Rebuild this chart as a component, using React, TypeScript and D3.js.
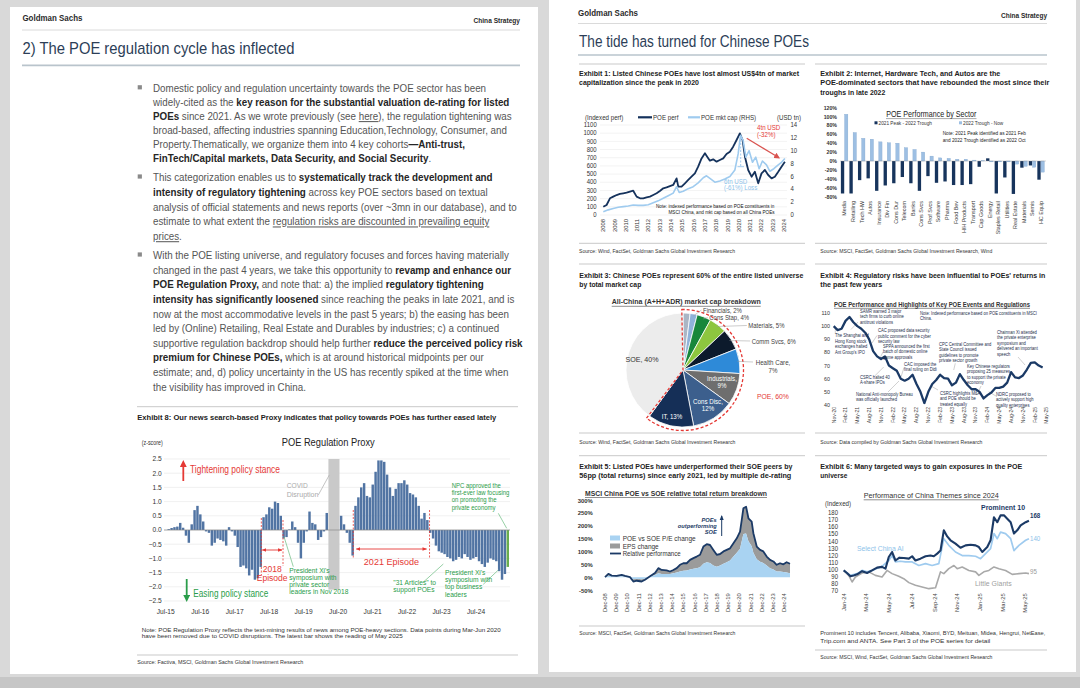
import React from 'react';
import * as d3 from 'd3';

const FONT = "'Liberation Sans', Arial, Helvetica, sans-serif";
const SX = 0.95;
const BODY_SX = 0.98;
const NAVY = '#15325c';
const LIGHT = '#9fcbef';
const RED = '#e53935';
const GREEN = '#2a9d4a';

// ---------------- Exhibit 8: POE Regulation Proxy (monthly z-score, Jul-15 .. May-25) ----------------
const proxyValues: (number | null)[] = [
  0.03, 0.07, 0.1, 0.12, 0.25, 0.08, -0.2, -0.45, 0.2, 0.7, 0.85, 0.55,
  0.3, -0.05, -0.1, -0.55, -0.45, -0.3, -0.35, -0.4, -0.55, 0.1, -0.05, -0.2,
  -0.6, -1.3, -1.25, -1.35, -1.6, -1.4, -1.75, -1.7, -1.3, 0.45, 0.55, 0.8,
  0.75, 1.0, 0.95, 0.5, -0.3, -0.25, 0.02, 0.3, 0.1, -0.45, -1.0, -0.45,
  -0.05, 0.65, 0.25, 0.2, -0.35, -0.25, -0.05, 0.6, null, null, null, null,
  0.5, 0.2, -0.1, -0.45, -0.9, 0.85, 1.15, 1.5, 1.65, 1.2, 1.15, 1.6,
  2.05, 2.45, 2.45, 2.4, 1.95, 1.5, 1.2, 1.45, 1.65, 1.65, 1.75, 1.6,
  1.3, 1.25, 1.15, 0.85, 0.4, 0.6, 0.35, -0.1, -0.3, -0.55, -0.75, -0.8,
  -0.85, -0.95, -1.0, -1.1, -1.05, -0.95, -1.0, -0.85, -0.95, -1.05, -1.0, -0.95,
  -1.1, -1.2, -1.3, -1.15, -1.0, -1.05, -1.1, -1.45, -1.75, -1.55, -1.3,
];
const proxyTickLabels = ['Jul-15', 'Jul-16', 'Jul-17', 'Jul-18', 'Jul-19', 'Jul-20', 'Jul-21', 'Jul-22', 'Jul-23', 'Jul-24'];
const proxyYTicks = [2.5, 2.0, 1.5, 1.0, 0.5, 0.0, -0.5, -1.0, -1.5, -2.0, -2.5];
const episode2018 = [33, 39];
const episode2021 = [65, 90];

// ---------------- Exhibit 1 ----------------
const perfYears = [2008.0, 2008.29, 2008.59, 2008.88, 2009.18, 2009.47, 2009.77, 2010.06, 2010.36, 2010.65, 2010.95, 2011.25, 2011.54, 2011.83, 2012.13, 2012.42, 2012.72, 2013.01, 2013.31, 2013.6, 2013.9, 2014.19, 2014.49, 2014.64, 2014.93, 2015.23, 2015.52, 2015.81, 2016.11, 2016.4, 2016.7, 2017.0, 2017.2, 2017.44, 2017.73, 2018.03, 2018.32, 2018.62, 2018.91, 2019.21, 2019.5, 2019.8, 2020.09, 2020.33, 2020.54, 2020.83, 2021.13, 2021.42, 2021.72, 2022.01, 2022.31, 2022.6, 2022.9, 2023.19, 2023.49, 2023.78, 2024.08];
const perfValues = [100, 122, 204, 224, 244, 257, 265, 273, 285, 297, 224, 204, 204, 216, 224, 244, 265, 293, 326, 338, 354, 367, 448, 346, 346, 387, 428, 468, 509, 591, 692, 754, 713, 664, 680, 652, 672, 692, 745, 774, 835, 917, 998, 917, 713, 550, 468, 529, 387, 509, 550, 489, 448, 468, 529, 591, 652];
const mktCapYears = [2008.0, 2008.44, 2008.88, 2009.32, 2009.77, 2010.21, 2010.65, 2011.09, 2011.54, 2011.98, 2012.42, 2012.86, 2013.31, 2013.75, 2014.19, 2014.49, 2014.72, 2015.08, 2015.52, 2015.96, 2016.4, 2016.85, 2017.14, 2017.44, 2017.88, 2018.32, 2018.76, 2019.21, 2019.65, 2019.94, 2020.15, 2020.38, 2020.62, 2020.91, 2021.21, 2021.5, 2021.8, 2022.09, 2022.45, 2022.75, 2023.1, 2023.49, 2023.78, 2024.08];
const mktCapValues = [0.5, 0.8, 1.0, 1.2, 1.3, 1.4, 1.55, 1.5, 1.5, 1.6, 1.9, 2.2, 2.6, 3.0, 3.4, 4.4, 3.5, 3.7, 4.1, 4.4, 5.0, 5.8, 6.1, 5.7, 5.1, 5.3, 5.6, 6.0, 7.0, 9.5, 12.4, 11.6, 9.0, 10.0, 8.2, 9.0, 7.2, 8.4, 7.8, 6.8, 7.2, 7.8, 8.2, 8.8];
const perfYTicks = [0, 100, 200, 300, 400, 500, 600, 700, 800, 900, 1000, 1100];
const capYTicks = [0, 2, 4, 6, 8, 10, 12, 14];
const yearLabels = ['2008', '2009', '2010', '2011', '2012', '2013', '2014', '2015', '2016', '2017', '2018', '2019', '2020', '2021', '2022', '2023', '2024'];

// ---------------- Exhibit 2 ----------------
const sectors = ['Media', 'Retailing', 'Tech HW', 'Autos', 'Insurance', 'Div Fin', 'Cons Dur', 'Telecom', 'Banks', 'Cons Svcs', 'Prof Svcs', 'Software', 'Pharma', 'Food Bev', 'H/H Products', 'Transport', 'Cap Goods', 'Energy', 'Staples Retail', 'Utilities', 'Real Estate', 'Materials', 'Semis', 'HC Equip'];
const peakToTrough = [-73, -73, -43, -39, -67, -55, -50, -36, -50, -67, -34, -49, -46, -54, -54, -52, -13, 6, -73, -37, -74, -15, -10, -42];
const troughToNow = [105, 64, 51, 49, 43, 41, 40, 30, 26, 20, 11, 7, 6, 4, 4, 2, 1, -2, -2, -2, -7, -12, -14, -25];
const sectorYTicks = [120, 100, 80, 60, 40, 20, 0, -20, -40, -60, -80];

// ---------------- Exhibit 3 ----------------
const sliceNames = ['Others', 'Financials', 'Cons Stap', 'Materials', 'Comm Svcs', 'Health Care', 'Industrials', 'Cons Disc', 'IT', 'SOE'];
const sliceValues = [2, 2, 4, 5, 6, 7, 9, 12, 13, 40];
const sliceColors = ['#aab6c5', '#8fb2d9', '#17873b', '#8dc63f', '#0c1a2c', '#2e8ad8', '#6e6e6e', '#3c5f8d', '#152f57', '#ececec'];

// ---------------- Exhibit 4 ----------------
const regPerf = [100, 97, 98, 104, 107, 103, 100, 98, 95, 90, 81, 77, 75, 77, 70, 68, 66, 60, 58.5, 60, 63, 56, 50, 41.5, 50, 56, 59, 63, 60.5, 60, 55, 57, 63.5, 59, 55, 52, 52, 50, 45, 47.5, 49.5, 53, 53, 54, 57, 65, 61, 60.5, 62.5, 67, 72, 72.5, 70, 68.5];
const regXLabels = ['Nov-20', 'Feb-21', 'May-21', 'Aug-21', 'Nov-21', 'Feb-22', 'May-22', 'Aug-22', 'Nov-22', 'Feb-23', 'May-23', 'Aug-23', 'Nov-23', 'Feb-24', 'May-24', 'Aug-24', 'Nov-24', 'Feb-25', 'May-25'];
const regYTicks = [110, 100, 90, 80, 70, 60, 50, 40];

// ---------------- Exhibit 5 ----------------
const relYears = [2008.92, 2009.22, 2009.52, 2009.96, 2010.41, 2010.71, 2011.15, 2011.45, 2011.75, 2012.19, 2012.49, 2012.94, 2013.38, 2013.68, 2013.98, 2014.42, 2014.72, 2015.02, 2015.32, 2015.61, 2015.91, 2016.21, 2016.51, 2016.81, 2017.1, 2017.4, 2017.7, 2018.0, 2018.29, 2018.59, 2018.89, 2019.19, 2019.49, 2019.78, 2020.08, 2020.38, 2020.68, 2020.97, 2021.12, 2021.27, 2021.51, 2021.72, 2022.01, 2022.16, 2022.46, 2022.76, 2023.05, 2023.35, 2023.65, 2023.95, 2024.24, 2024.54, 2024.84, 2025.13, 2025.43];
const relPerf = [0, 13, 6, 5, 9, 5, 0, -17, -14, -17, -10, 3, 16, 35, 28, 26, 22, 28, 35, 48, 54, 54, 67, 74, 80, 87, 119, 128, 125, 106, 87, 90, 100, 106, 112, 132, 151, 177, 222, 268, 274, 229, 216, 171, 119, 106, 100, 80, 67, 61, 48, 54, 50, 58, 52];
const peChange = [0, 5, 3, 2, 3, 2, 0, -8, -6, -8, -5, 2, 8, 15, 12, 12, 12, 15, 18, 22, 25, 26, 30, 33, 35, 38, 52, 58, 55, 45, 40, 45, 52, 58, 65, 80, 95, 110, 140, 168, 170, 140, 120, 95, 70, 60, 55, 45, 35, 30, 22, 22, 20, 18, 15];
const relYTicks = [300, 250, 200, 150, 100, 50, 0, -50];
const decLabels = ['Dec-08', 'Dec-09', 'Dec-10', 'Dec-11', 'Dec-12', 'Dec-13', 'Dec-14', 'Dec-15', 'Dec-16', 'Dec-17', 'Dec-18', 'Dec-19', 'Dec-20', 'Dec-21', 'Dec-22', 'Dec-23', 'Dec-24'];

// ---------------- Exhibit 6 (months since Jan-24) ----------------
const promMonths = [0, 0.29, 0.59, 0.88, 1.18, 1.62, 2.06, 2.5, 2.94, 3.38, 3.68, 3.97, 4.26, 4.56, 4.91, 5.29, 5.74, 6.03, 6.32, 6.76, 7.21, 7.65, 7.94, 8.24, 8.53, 8.82, 9.12, 9.41, 9.85, 10.29, 10.74, 11.18, 11.62, 11.91, 12.21, 12.65, 12.94, 13.24, 13.53, 13.82, 14.12, 14.41, 14.71, 15.0, 15.29, 15.59, 16.03, 16.32];
const promValues = [99, 95.4, 90.7, 92, 93.5, 98, 95.4, 99, 103, 104, 101.5, 118, 125, 113, 117, 116.5, 115.6, 119, 113, 115.6, 119, 120, 119, 122.7, 127, 155.6, 147, 141.5, 136.8, 131, 134.4, 135.3, 134.4, 132, 125, 132, 141.5, 174, 167, 176.7, 176.7, 172, 167, 151, 155.6, 162.6, 167, 169];
const aiMonths = [0, 0.59, 1.18, 1.62, 2.06, 2.5, 3.38, 3.97, 4.26, 4.56, 5.0, 5.44, 6.03, 6.62, 7.21, 7.79, 8.38, 8.82, 9.26, 9.85, 10.44, 11.03, 11.62, 12.06, 12.5, 12.94, 13.24, 13.53, 13.82, 14.26, 14.71, 15.0, 15.44, 16.03, 16.32];
const aiValues = [99, 92, 94.5, 99, 97, 99, 104.8, 113, 120, 111, 112, 111, 111, 106, 108.6, 106, 108.6, 143.8, 134.4, 125, 120, 120, 119, 115.6, 122.7, 129.7, 151, 143.8, 153, 151, 143.8, 127, 134.4, 141.5, 143.8];
const giantsMonths = [0, 0.44, 0.74, 1.03, 1.62, 2.21, 2.79, 3.38, 3.82, 4.26, 4.85, 5.29, 5.74, 6.32, 6.91, 7.5, 8.09, 8.53, 8.82, 9.26, 9.71, 10.0, 10.44, 11.03, 11.62, 11.91, 12.35, 12.79, 13.24, 13.68, 14.26, 14.85, 15.44, 16.03, 16.32];
const giantsValues = [99, 92, 82.7, 89.8, 95.4, 97, 92, 89.8, 99, 94.5, 90.7, 87.4, 81.8, 78, 75.7, 73.3, 74.7, 97, 94.5, 101.5, 106, 101.5, 103.9, 99, 97, 92, 97, 99, 103.9, 101.5, 99, 93.5, 94.5, 95.4, 94.5];
const themeXLabels = ['Jan-24', 'Mar-24', 'May-24', 'Jul-24', 'Sep-24', 'Nov-24', 'Jan-25', 'Mar-25', 'May-25'];
const themeYTicks = [180, 170, 160, 150, 140, 130, 120, 110, 100, 90, 80, 70];

// ---------------- Body text ----------------
type Seg = [string, string];
const bullet1: Seg[][] = [
  [['Domestic policy and regulation uncertainty towards the POE sector has been', '']],
  [['widely-cited as the ', ''], ['key reason for the substantial valuation de-rating for listed', 'b']],
  [['POEs', 'b'], [' since 2021. As we wrote previously (see ', ''], ['here', 'u'], ['), the regulation tightening was', '']],
  [['broad-based, affecting industries spanning Education,Technology, Consumer, and', '']],
  [['Property.Thematically, we organize them into 4 key cohorts', ''], ['\u2014Anti-trust,', 'b']],
  [['FinTech/Capital markets, Data Security, and Social Security', 'b'], ['.', '']],
];
const bullet2: Seg[][] = [
  [['This categorization enables us to ', ''], ['systematically track the development and', 'b']],
  [['intensity of regulatory tightening', 'b'], [' across key POE sectors based on textual', '']],
  [['analysis of official statements and news reports (over ~3mn in our database), and to', '']],
  [['estimate to what extent the ', ''], ['regulation risks are discounted in prevailing equity', 'u']],
  [['prices', 'u'], ['.', '']],
];
const bullet3: Seg[][] = [
  [['With the POE listing universe, and regulatory focuses and forces having materially', '']],
  [['changed in the past 4 years, we take this opportunity to ', ''], ['revamp and enhance our', 'b']],
  [['POE Regulation Proxy,', 'b'], [' and note that: a) the implied ', ''], ['regulatory tightening', 'b']],
  [['intensity has significantly loosened', 'b'], [' since reaching the peaks in late 2021, and is', '']],
  [['now at the most accommodative levels in the past 5 years; b) the easing has been', '']],
  [['led by (Online) Retailing, Real Estate and Durables by industries; c) a continued', '']],
  [['supportive regulation backdrop should help further ', ''], ['reduce the perceived policy risk', 'b']],
  [['premium for Chinese POEs,', 'b'], [' which is at around historical midpoints per our', '']],
  [['estimate; and, d) policy uncertainty in the US has recently spiked at the time when', '']],
  [['the visibility has improved in China.', '']],
];

function T({ x, y, s = 7, sx = SX, a = 'start', fill = '#333', bold = false, italic = false, tl, deco, rot, children }: any) {
  const tr = rot ? `translate(${x},${y}) rotate(${rot})` : `translate(${x},${y}) scale(${sx},1)`;
  const k = rot ? 1 : sx;
  return (
    <text transform={tr} fontSize={s} textAnchor={a} fill={fill} fontWeight={bold ? 700 : 400}
      fontStyle={italic ? 'italic' : undefined} textDecoration={deco}
      textLength={tl ? tl / k : undefined} lengthAdjust={tl ? 'spacingAndGlyphs' : undefined}>{children}</text>
  );
}

function Ln({ x1, y1, x2, y2, c = '#bbb', w = 0.8, dash, m }: any) {
  return <line x1={x1} y1={y1} x2={x2} y2={y2} stroke={c} strokeWidth={w} strokeDasharray={dash} markerEnd={m ? `url(#${m})` : undefined} />;
}

function Para({ lines, x, y0, step }: { lines: Seg[][]; x: number; y0: number; step: number }) {
  return (
    <g>
      <rect x={137.7} y={y0 - 6.8} width={4.2} height={4.2} fill="#8a8a8a" />
      {lines.map((line, i) => (
        <text key={i} transform={`translate(${x},${y0 + i * step}) scale(${BODY_SX},1)`} fontSize={10} fill="#555">
          {line.map((sg, j) => (
            <tspan key={j} fontWeight={sg[1] === 'b' ? 700 : 400} fill={sg[1] === 'b' ? '#262626' : '#555'}
              textDecoration={sg[1] === 'u' ? 'underline' : undefined}>{sg[0]}</tspan>
          ))}
        </text>
      ))}
    </g>
  );
}

function Exhibit8() {
  const idx = d3.range(proxyValues.length);
  const x = d3.scaleBand<number>().domain(idx).range([167.5, 509]).paddingInner(0.15);
  const bw = x.bandwidth();
  const y = d3.scaleLinear().domain([-2.5, 2.5]).range([601, 459]);
  const nulls = idx.filter((i) => proxyValues[i] == null);
  const cx0 = x(nulls[0])!;
  const cx1 = x(nulls[nulls.length - 1])! + bw;
  const last = proxyValues.length - 1;
  const e18a = x(episode2018[0])! - 1, e18b = x(episode2018[1])! + bw + 1;
  const e21a = x(episode2021[0])! - 1, e21b = x(episode2021[1])! + bw + 1;
  return (
    <g>
      <Ln x1={137} y1={406.7} x2={518} y2={406.7} c="#c9c9c9" w={1} />
      <T x={137.3} y={420} s={7.6} bold fill="#222" tl={359}>Exhibit 8: Our news search-based Proxy indicates that policy towards POEs has further eased lately</T>
      <T x={141.7} y={445} s={7} fill="#333" tl={21}>(z-score)</T>
      <T x={281.7} y={445.5} s={10.5} fill="#222" tl={93}>POE Regulation Proxy</T>
      {proxyYTicks.map((t) => (
        <g key={t}>
          <Ln x1={164} y1={y(t)} x2={510} y2={y(t)} c="#e6e6e6" w={0.6} />
          <T x={161.7} y={y(t) + 2.4} s={7} a="end" fill="#333">{d3.format('.1f')(t)}</T>
        </g>
      ))}
      <rect x={cx0} y={y(2.5)} width={cx1 - cx0} height={y(-2.1) - y(2.5)} fill="#c9c9c9" />
      {idx.map((i) => {
        const v = proxyValues[i];
        if (v == null) return null;
        return <rect key={i} x={x(i)} y={y(Math.max(0, v))} width={bw} height={Math.abs(y(v) - y(0))}
          fill={i === last ? '#6aad4e' : '#5174a3'} />;
      })}
      <Ln x1={164} y1={y(0)} x2={510} y2={y(0)} c="#8a8a8a" w={0.7} />
      {proxyTickLabels.map((l, k) => (
        <T key={l} x={x(k * 12)! + bw / 2 - 3} y={613.5} s={7} a="middle" fill="#333">{l}</T>
      ))}
      <Ln x1={183.3} y1={481} x2={183.3} y2={463} c={RED} w={1.8} m="arR" />
      <T x={190} y={472.5} s={10} fill={RED} tl={90}>Tightening policy stance</T>
      <Ln x1={186.7} y1={579} x2={186.7} y2={599} c={GREEN} w={1.8} m="arG" />
      <T x={193.3} y={596.5} s={10} fill={GREEN} tl={75}>Easing policy stance</T>
      <T x={286.7} y={487.5} s={7} fill="#aaa">COVID</T>
      <T x={286.7} y={496.5} s={7} fill="#aaa" tl={31.7}>Disruption</T>
      <Ln x1={318.3} y1={495} x2={329.3} y2={475} c="#b5b5b5" w={0.8} />
      <Ln x1={e18a} y1={518} x2={e18a} y2={575} c={RED} w={0.8} dash="2,1.5" />
      <Ln x1={e18b} y1={520} x2={e18b} y2={566} c={RED} w={0.8} dash="2,1.5" />
      <line x1={e18a + 1} y1={550} x2={e18b - 1} y2={550} stroke={RED} strokeWidth={0.9} markerStart="url(#arRs)" markerEnd="url(#arRs)" />
      <T x={(e18a + e18b) / 2} y={571.5} s={9} a="middle" fill={RED}>2018</T>
      <T x={(e18a + e18b) / 2} y={580.5} s={9} a="middle" fill={RED}>Episode</T>
      <Ln x1={e21a} y1={510} x2={e21a} y2={558} c={RED} w={0.8} dash="2,1.5" />
      <Ln x1={e21b} y1={510} x2={e21b} y2={558} c={RED} w={0.8} dash="2,1.5" />
      <line x1={e21a + 3} y1={549} x2={e21b - 3} y2={549} stroke={RED} strokeWidth={0.9} markerStart="url(#arRs)" markerEnd="url(#arRs)" />
      <T x={(e21a + e21b) / 2} y={565} s={9.5} a="middle" fill={RED}>2021 Episode</T>
      <Ln x1={284} y1={536.7} x2={293.3} y2={566.7} c="#7cc48f" w={0.8} />
      {["President Xi's", 'symposium with', 'private sector', 'leaders in Nov 2018'].map((t, i) => (
        <T key={t} x={289.3} y={572.5 + i * 7.2} s={7} fill={GREEN}>{t}</T>
      ))}
      <Ln x1={422.7} y1={582.7} x2={443.3} y2={564} c="#7cc48f" w={0.8} />
      {['"31 Articles" to', 'support POEs'].map((t, i) => (
        <T key={t} x={393.3} y={585 + i * 7.2} s={7} fill={GREEN}>{t}</T>
      ))}
      <Ln x1={483.3} y1={584.3} x2={498.3} y2={570} c="#7cc48f" w={0.8} />
      {["President Xi's", 'symposium with', 'top business', 'leaders'].map((t, i) => (
        <T key={t} x={445} y={574.5 + i * 7.4} s={7} fill={GREEN}>{t}</T>
      ))}
      <Ln x1={498.3} y1={513.3} x2={506.7} y2={528.3} c="#7cc48f" w={0.8} />
      {['NPC approved the', 'first-ever law focusing', 'on promoting the', 'private economy'].map((t, i) => (
        <T key={t} x={451.7} y={487.5 + i * 7.4} s={6.8} sx={0.88} fill={GREEN}>{t}</T>
      ))}
      <T x={141.7} y={631.5} s={6.2} fill="#333" tl={359}>Note: POE Regulation Proxy reflects the text-mining results of news among POE-heavy sections. Data points during Mar-Jun 2020</T>
      <T x={141.7} y={638} s={6.2} fill="#333" tl={261}>have been removed due to COVID disruptions. The latest bar shows the reading of May 2025</T>
      <Ln x1={137} y1={655} x2={518} y2={655} c="#c9c9c9" w={1} />
      <T x={137.3} y={664} s={6} fill="#333" tl={166}>Source: Factiva, MSCI, Goldman Sachs Global Investment Research</T>
    </g>
  );
}

function LeftPage() {
  return (
    <g>
      <T x={22.4} y={21} s={9.5} bold fill="#2b2b2b" tl={60}>Goldman Sachs</T>
      <T x={520} y={22.5} s={7} bold fill="#2b2b2b" a="end" tl={46.5}>China Strategy</T>
      <Ln x1={22} y1={30} x2={520} y2={30} c="#d0d0d0" w={0.8} />
      <T x={22.4} y={54} s={17} fill="#2c3e57" tl={272}>2) The POE regulation cycle has inflected</T>
      <Ln x1={22} y1={65.4} x2={520} y2={65.4} c="#b9c4cc" w={1.6} />
      <Para lines={bullet1} x={153} y0={92} step={14.05} />
      <Para lines={bullet2} x={153} y0={181.2} step={14.75} />
      <Para lines={bullet3} x={153} y0={259.2} step={14.6} />
      <Exhibit8 />
    </g>
  );
}

function Exhibit1() {
  const x = d3.scaleLinear().domain([2008, 2024]).range([603.3, 784]);
  const yL = d3.scaleLinear().domain([0, 1100]).range([215, 125]);
  const yR = d3.scaleLinear().domain([0, 14]).range([215, 125]);
  const perfLine = d3.line<number>().x((_, i) => x(perfYears[i])).y((v) => yL(v));
  const capLine = d3.line<number>().x((_, i) => x(mktCapYears[i])).y((v) => yR(v));
  return (
    <g>
      <T x={579} y={75.5} s={7.2} bold fill="#222" tl={220}>Exhibit 1: Listed Chinese POEs have lost almost US$4tn of market</T>
      <T x={579} y={85} s={7.2} bold fill="#222" tl={120}>capitalization since the peak in 2020</T>
      <T x={585} y={119.5} s={6.5} fill="#333">(Indexed perf)</T>
      <Ln x1={638} y1={117.3} x2={652} y2={117.3} c={NAVY} w={2.2} />
      <T x={653} y={119.5} s={6.5} fill="#333">POE perf</T>
      <Ln x1={688} y1={117.3} x2={700} y2={117.3} c={LIGHT} w={2.2} />
      <T x={701} y={119.5} s={6.5} fill="#333">POE mkt cap (RHS)</T>
      <T x={777} y={119.5} s={6.5} fill="#333">(USD tn)</T>
      {perfYTicks.map((t) => (
        <g key={t}>
          <Ln x1={600} y1={yL(t)} x2={787} y2={yL(t)} c="#e6e6e6" w={0.5} />
          <T x={596.7} y={yL(t) + 2.2} s={6.3} a="end" fill="#333">{t}</T>
        </g>
      ))}
      {capYTicks.map((t) => (
        <T key={t} x={790.5} y={yR(t) + 2.2} s={6.3} fill="#333">{t}</T>
      ))}
      {yearLabels.map((l, i) => (
        <T key={l} x={x(2008 + i) + 2} y={219} rot={-90} s={5.8} a="end" fill="#333">{l}</T>
      ))}
      <path d={perfLine(perfValues)!} fill="none" stroke={NAVY} strokeWidth={1.8} strokeLinejoin="round" />
      <path d={capLine(mktCapValues)!} fill="none" stroke={LIGHT} strokeWidth={1.6} strokeLinejoin="round" />
      <T x={757} y={129.5} s={6.5} fill={RED}>4tn USD</T>
      <T x={757} y={136.5} s={6.5} fill={RED}>(-32%)</T>
      <Ln x1={746.7} y1={138.3} x2={779} y2={157.8} c="#d9534f" w={1.2} m="arR2" />
      <Ln x1={740.7} y1={136} x2={740.7} y2={166.7} c={LIGHT} w={1} dash="2,1.5" />
      <Ln x1={737.5} y1={166.7} x2={744} y2={166.7} c={LIGHT} w={1} />
      <T x={724} y={183.5} s={6.5} fill="#8ec3ea">6tn USD</T>
      <T x={724} y={190} s={6.5} fill="#8ec3ea">(-61%) Loss</T>
      <T x={656} y={207.8} s={4.9} fill="#111">Note: indexed performance based on POE constituents in</T>
      <T x={668.5} y={214.3} s={4.9} fill="#111">MSCI China, and mkt cap based on all China POEs</T>
      <Ln x1={579} y1={243.3} x2={805} y2={243.3} c="#c9c9c9" w={1} />
      <T x={579} y={252.5} s={6} fill="#333" tl={156}>Source: Wind, FactSet, Goldman Sachs Global Investment Research</T>
    </g>
  );
}

function Exhibit2() {
  const x = d3.scaleBand<string>().domain(sectors).range([840.2, 1045.2]);
  const bw = x.bandwidth();
  const y = d3.scaleLinear().domain([-80, 120]).range([196.6, 107.6]);
  const barW = bw * 0.39;
  return (
    <g>
      <T x={820.3} y={75.5} s={7.2} bold fill="#222" tl={180}>Exhibit 2: Internet, Hardware Tech, and Autos are the</T>
      <T x={820.3} y={85} s={7.2} bold fill="#222" tl={229}>POE-dominated sectors that have rebounded the most since their</T>
      <T x={820.3} y={94.5} s={7.2} bold fill="#222" tl={65}>troughs in late 2022</T>
      <T x={931.3} y={116.5} s={9} a="middle" fill="#222" tl={90}>POE Performance by Sector</T>
      <Ln x1={886} y1={118.6} x2={976.5} y2={118.6} c="#555" w={0.5} />
      <rect x={874.5} y={121.3} width={3} height={3} fill={NAVY} />
      <T x={878.5} y={124.5} s={5} fill="#333">2021 Peak - 2022 Trough</T>
      <rect x={959} y={121.3} width={3} height={3} fill="#9dbfe3" />
      <T x={963} y={124.5} s={5} fill="#333">2022 Trough - Now</T>
      <T x={942.7} y={135} s={5} fill="#222">Note: 2021 Peak identified as 2021 Feb</T>
      <T x={942.7} y={141.5} s={5} fill="#222">and 2022 Trough identified as 2022 Oct</T>
      {sectorYTicks.map((t) => (
        <T key={t} x={837} y={y(t) + 2} s={5.5} a="end" bold fill="#333">{t + '%'}</T>
      ))}
      {sectors.map((s, i) => {
        const x0 = x(s)! + bw * 0.08;
        const a = peakToTrough[i];
        const b = troughToNow[i];
        return (
          <g key={s}>
            <rect x={x0} y={y(Math.max(0, a))} width={barW} height={Math.abs(y(a) - y(0))} fill="#17345c" />
            <rect x={x0 + barW + bw * 0.04} y={y(Math.max(0, b))} width={barW} height={Math.abs(y(b) - y(0))} fill="#9dbfe3" stroke="#7ea3cb" strokeWidth={0.3} />
            <T x={x(s)! + bw / 2 + 2} y={201} rot={-90} s={5.4} a="end" fill="#444">{s}</T>
          </g>
        );
      })}
      <Ln x1={840} y1={y(0)} x2={1046} y2={y(0)} c="#999" w={0.4} />
      <Ln x1={815} y1={243.3} x2={1047} y2={243.3} c="#c9c9c9" w={1} />
      <T x={820.3} y={252.5} s={6} fill="#333" tl={172}>Source: MSCI, FactSet, Goldman Sachs Global Investment Research, Wind</T>
    </g>
  );
}

function Exhibit3() {
  const cx = 683, cy = 370, r = 57;
  const pie = d3.pie<number>().sort(null).startAngle(0).endAngle(2 * Math.PI)(sliceValues);
  const arc = d3.arc<any>().innerRadius(0).outerRadius(r);
  const poeShare = d3.sum(sliceValues.slice(0, sliceValues.length - 1)) / d3.sum(sliceValues);
  const outline = d3.arc<any>()({ innerRadius: 0, outerRadius: r + 3.5, startAngle: -0.02, endAngle: poeShare * 2 * Math.PI + 0.02 });
  const pt = (i: number, rr: number) => {
    const a = (pie[i].startAngle + pie[i].endAngle) / 2;
    return [cx + Math.sin(a) * rr, cy - Math.cos(a) * rr];
  };
  const outsideLabels: [number, string, number, number][] = [
    [1, 'Financials, 2%', 703, 312.5],
    [2, 'Cons Stap, 4%', 709.3, 320],
    [3, 'Materials, 5%', 748.3, 328],
    [4, 'Comm Svcs, 6%', 751.7, 343.5],
  ];
  return (
    <g>
      <Ln x1={579} y1={264} x2={805} y2={264} c="#c9c9c9" w={1} />
      <T x={579.3} y={277.5} s={7.2} bold fill="#222" tl={224}>Exhibit 3: Chinese POEs represent 60% of the entire listed universe</T>
      <T x={579.3} y={286.5} s={7.2} bold fill="#222" tl={62}>by total market cap</T>
      <T x={611.7} y={304.3} s={8} bold fill="#333" tl={149}>All-China (A+H+ADR) market cap breakdown</T>
      <Ln x1={611.7} y1={306.3} x2={760.7} y2={306.3} c="#444" w={0.6} />
      <g transform={`translate(${cx},${cy})`}>
        {pie.map((p, i) => (
          <path key={sliceNames[i]} d={arc(p)!} fill={sliceColors[i]} stroke="#fff" strokeWidth={0.8} />
        ))}
        <path d={outline!} fill="none" stroke={RED} strokeWidth={1.3} strokeDasharray="3,2" />
      </g>
      {outsideLabels.map(([i, t, lx, ly]) => {
        const [px, py] = pt(i, r - 2);
        return (
          <g key={t}>
            <Ln x1={px} y1={py} x2={lx - 1.5} y2={ly - 2.5} c="#999" w={0.5} />
            <T x={lx} y={ly} s={6.3} fill="#444">{t}</T>
          </g>
        );
      })}
      {(() => { const [px, py] = pt(5, r - 2); return <Ln x1={px} y1={py} x2={753} y2={362} c="#999" w={0.5} />; })()}
      <T x={773} y={364.5} s={6.5} a="middle" fill="#444">Health Care,</T>
      <T x={773} y={372.5} s={6.5} a="middle" fill="#444">7%</T>
      <T x={757} y={398.5} s={7.2} fill={RED}>POE, 60%</T>
      <T x={722} y={380.5} s={6.5} a="middle" fill="#fff">Industrials,</T>
      <T x={722} y={388} s={6.5} a="middle" fill="#fff">9%</T>
      <T x={708} y={403.8} s={6.5} a="middle" fill="#fff">Cons Disc,</T>
      <T x={708} y={411.3} s={6.5} a="middle" fill="#fff">12%</T>
      <T x={672} y={418.5} s={6.5} a="middle" fill="#fff">IT, 13%</T>
      <T x={642} y={361.8} s={7.5} a="middle" fill="#333">SOE, 40%</T>
      <Ln x1={579} y1={433} x2={805} y2={433} c="#c9c9c9" w={1} />
      <T x={579.3} y={443.5} s={6} fill="#333" tl={156}>Source: Wind, FactSet, Goldman Sachs Global Investment Research</T>
    </g>
  );
}

function Exhibit4() {
  const x = d3.scaleLinear().domain([0, 54]).range([833.7, 1046.6]);
  const y = d3.scaleLinear().domain([40, 110]).range([405, 313]);
  const line = d3.line<number>().x((_, i) => x(i)).y((v) => y(v));
  const notes: [string[], number, number][] = [
    [['The Shanghai and', 'Hong Kong stock', 'exchanges halted', "Ant Group's IPO"], 835, 337],
    [['SAMR warned 3 major', 'tech firms to curb online', 'antitrust violations'], 860, 312.5],
    [['CAC proposed data security', 'public comment for the cyber', 'security law'], 878, 332],
    [['SPPA announced the first', 'batch of domestic online', 'game approvals'], 883, 347.5],
    [['CAC imposed the', 'final ruling on Didi'], 904, 365.5],
    [['CSRC halted 40', 'A-share IPOs'], 860, 378.5],
    [['National Anti-monopoly Bureau', 'was officially launched'], 856, 395.5],
    [['CPC Central Committee and', 'State Council issued', 'guidelines to promote', 'private sector growth'], 939, 345.5],
    [['Key Chinese regulators', 'proposing 25 measures', 'to support the private', 'economy'], 967, 367.5],
    [['CSRC highlights M&A', 'and POE should be', 'treated equally'], 940, 394.5],
    [['NDRC proposed to', 'actively support high', 'quality enterprises'], 996, 395.5],
    [['Chairman Xi attended', 'the private enterprise', 'symposium and', 'delivered an important', 'speech'], 997, 333.5],
    [['Note: Indexed performance based on POE constituents in MSCI', 'China.'], 920, 314.5],
  ];
  const leaders = [
    [835.3, 333.5, 835.3, 329], [858, 322, 851, 329.5], [877, 335.5, 872, 343], [883, 352, 880, 358],
    [873.7, 377, 883.7, 367], [904, 367.5, 901, 377], [888, 392, 899, 381], [955.3, 363.3, 953.7, 370],
    [981, 386, 979, 390.5], [938, 390, 931, 386], [997, 396.7, 988.7, 391.7], [1018, 357, 1025, 365],
  ];
  return (
    <g>
      <Ln x1={815} y1={264} x2={1047} y2={264} c="#c9c9c9" w={1} />
      <T x={820.3} y={277.5} s={7.2} bold fill="#222" tl={225}>Exhibit 4: Regulatory risks have been influential to POEs' returns in</T>
      <T x={820.3} y={286.5} s={7.2} bold fill="#222" tl={62}>the past few years</T>
      <T x={834} y={306.5} s={7} bold fill="#333" tl={196}>POE Performance and Highlights of Key POE Events and Regulations</T>
      <Ln x1={834} y1={308.3} x2={1030} y2={308.3} c="#444" w={0.6} />
      {regYTicks.map((t) => (
        <T key={t} x={830} y={y(t) + 2} s={5.6} a="end" fill="#333">{t}</T>
      ))}
      {regXLabels.map((l, i) => (
        <T key={l} x={x(i * 3) + 1.8} y={407} rot={-90} s={5} a="end" fill="#444">{l}</T>
      ))}
      {leaders.map((p, i) => <Ln key={i} x1={p[0]} y1={p[1]} x2={p[2]} y2={p[3]} c="#8a8a8a" w={0.4} />)}
      <path d={line(regPerf)!} fill="none" stroke="#1b3a66" strokeWidth={2.3} strokeLinejoin="round" />
      {notes.map(([ls, nx, ny], k) => (
        <g key={k}>
          {ls.map((t, i) => <T key={i} x={nx} y={ny + i * 5.6} s={4.6} sx={0.9} fill="#1c2d4a">{t}</T>)}
        </g>
      ))}
      <Ln x1={815} y1={433} x2={1047} y2={433} c="#c9c9c9" w={1} />
      <T x={820.3} y={443.5} s={6} fill="#333" tl={162}>Source: Data compiled by Goldman Sachs Global Investment Research</T>
    </g>
  );
}

function Exhibit5() {
  const x = d3.scaleLinear().domain([2008.92, 2024.92]).range([605, 784.3]);
  const y = d3.scaleLinear().domain([-50, 300]).range([590, 500]);
  const peArea = d3.area<number>().x((_, i) => x(relYears[i])).y0(y(0)).y1((v) => y(v));
  const epsArea = d3.area<number>().x((_, i) => x(relYears[i])).y0((_, i) => y(peChange[i])).y1((v) => y(v));
  const line = d3.line<number>().x((_, i) => x(relYears[i])).y((v) => y(v));
  return (
    <g>
      <Ln x1={579} y1={455.7} x2={805} y2={455.7} c="#c9c9c9" w={1} />
      <T x={579.3} y={468.5} s={7.2} bold fill="#222" tl={213}>Exhibit 5: Listed POEs have underperformed their SOE peers by</T>
      <T x={579.3} y={477.8} s={7.2} bold fill="#222" tl={212}>56pp (total returns) since early 2021, led by multiple de-rating</T>
      <T x={585} y={495.5} s={8} bold fill="#333" tl={182}>MSCI China POE vs SOE relative total return breakdown</T>
      <Ln x1={585} y1={497.5} x2={767} y2={497.5} c="#444" w={0.6} />
      {relYTicks.map((t) => (
        <T key={t} x={592.7} y={y(t) + 2.6} s={6.2} a="end" bold fill="#333">{t + '%'}</T>
      ))}
      <path d={epsArea(relPerf)!} fill="#9b9b9b" />
      <path d={peArea(peChange)!} fill="#a9d3f2" />
      <path d={line(relPerf)!} fill="none" stroke="#1b3a66" strokeWidth={1.8} strokeLinejoin="round" />
      {decLabels.map((l, i) => (
        <T key={l} x={x(2008.92 + i) + 2} y={593.3} rot={-90} s={5.8} a="end" fill="#444">{l}</T>
      ))}
      <rect x={610} y={535.5} width={10} height={5} fill="#a9d3f2" />
      <T x={622.7} y={541} s={7.5} fill="#333" tl={73}>POE vs SOE P/E change</T>
      <rect x={610} y={543.5} width={10} height={5} fill="#9b9b9b" />
      <T x={622.7} y={549} s={7.5} fill="#333" tl={36}>EPS change</T>
      <Ln x1={610} y1={553.5} x2={621} y2={553.5} c="#1b3a66" w={1.8} />
      <T x={622.7} y={556.3} s={7.5} fill="#333" tl={58}>Relative performance</T>
      <T x={716.7} y={521.5} s={6} a="end" italic bold fill="#1b3a66">POEs</T>
      <T x={716.7} y={527.5} s={6} a="end" italic bold fill="#1b3a66">outperforming</T>
      <T x={716.7} y={533.5} s={6} a="end" italic bold fill="#1b3a66">SOE</T>
      <Ln x1={721.7} y1={536} x2={721.7} y2={516} c="#1b3a66" w={1} m="arN" />
      <Ln x1={579} y1={626} x2={805} y2={626} c="#c9c9c9" w={1} />
      <T x={579.3} y={634.5} s={6} fill="#333" tl={156}>Source: MSCI, FactSet, Goldman Sachs Global Investment Research</T>
    </g>
  );
}

function Exhibit6() {
  const x = d3.scaleLinear().domain([0, 16]).range([843.7, 1025.3]);
  const y = d3.scaleLinear().domain([70, 180]).range([591, 513]);
  const mk = (xs: number[]) => d3.line<number>().x((_, i) => x(xs[i])).y((v) => y(v));
  return (
    <g>
      <Ln x1={815} y1={455.7} x2={1047} y2={455.7} c="#c9c9c9" w={1} />
      <T x={820.3} y={468.5} s={7.2} bold fill="#222" tl={202}>Exhibit 6: Many targeted ways to gain exposures in the POE</T>
      <T x={820.3} y={477.8} s={7.2} bold fill="#222" tl={27}>universe</T>
      <T x={863.7} y={497.5} s={8} fill="#333" tl={135}>Performance of China Themes since 2024</T>
      <Ln x1={863.7} y1={499.8} x2={998.7} y2={499.8} c="#444" w={0.6} />
      <T x={825} y={506} s={6.5} fill="#333">(Indexed)</T>
      {themeYTicks.map((t) => (
        <T key={t} x={838} y={y(t) + 2.2} s={6.3} a="end" fill="#333">{t}</T>
      ))}
      {themeXLabels.map((l, i) => (
        <T key={l} x={x(i * 2) + 2} y={593.3} rot={-90} s={5.8} a="end" fill="#444">{l}</T>
      ))}
      <path d={mk(giantsMonths)(giantsValues)!} fill="none" stroke="#a9a9a9" strokeWidth={1.6} strokeLinejoin="round" />
      <path d={mk(aiMonths)(aiValues)!} fill="none" stroke={LIGHT} strokeWidth={1.7} strokeLinejoin="round" />
      <path d={mk(promMonths)(promValues)!} fill="none" stroke="#1b3a66" strokeWidth={2.1} strokeLinejoin="round" />
      <T x={981} y={510} s={7.5} bold fill="#1b3a66" tl={44}>Prominent 10</T>
      <T x={1030} y={517.5} s={6.5} bold fill="#1b3a66">168</T>
      <T x={1030} y={541} s={6.5} fill="#8ec3ea">140</T>
      <T x={1030} y={574} s={6.5} fill="#9a9a9a">95</T>
      <T x={857} y={550.5} s={7} fill="#8ec3ea" tl={46.7}>Select China AI</T>
      <T x={975} y={586} s={7} fill="#a0a0a0" tl={36.7}>Little Giants</T>
      <T x={820.3} y={634.5} s={5.6} fill="#333" tl={225}>Prominent 10 includes Tencent, Alibaba, Xiaomi, BYD, Meituan, Midea, Hengrui, NetEase,</T>
      <T x={820.3} y={642.5} s={5.6} fill="#333" tl={170}>Trip.com and ANTA. See Part 3 of the POE series for detail</T>
      <Ln x1={815} y1={650} x2={1047} y2={650} c="#c9c9c9" w={1} />
      <T x={820.3} y={658.5} s={6} fill="#333" tl={172}>Source: MSCI, Wind, FactSet, Goldman Sachs Global Investment Research</T>
    </g>
  );
}

function RightPage() {
  return (
    <g>
      <T x={578} y={16} s={9.5} bold fill="#2b2b2b" tl={60}>Goldman Sachs</T>
      <T x={1047} y={17.5} s={7} bold fill="#2b2b2b" a="end" tl={46}>China Strategy</T>
      <Ln x1={578} y1={23.5} x2={1047} y2={23.5} c="#d0d0d0" w={0.8} />
      <T x={579} y={46.5} s={16.3} fill="#2c3e57" tl={230}>The tide has turned for Chinese POEs</T>
      <Ln x1={578} y1={55} x2={1047} y2={55} c="#b9c4cc" w={1.6} />
      <Ln x1={579} y1={64} x2={805} y2={64} c="#c9c9c9" w={1} />
      <Ln x1={815} y1={64} x2={1047} y2={64} c="#c9c9c9" w={1} />
      <Exhibit1 />
      <Exhibit2 />
      <Exhibit3 />
      <Exhibit4 />
      <Exhibit5 />
      <Exhibit6 />
    </g>
  );
}

export default function App() {
  return (
    <svg width={1080} height={688} viewBox="0 0 1080 688"
      style={{ position: 'absolute', left: 0, top: 0, fontFamily: FONT, display: 'block' }}>
      <defs>
        <marker id="arR" viewBox="0 0 10 10" refX="6" refY="5" markerWidth="4" markerHeight="4" orient="auto"><path d="M0,0L10,5L0,10z" fill={RED} /></marker>
        <marker id="arR2" viewBox="0 0 10 10" refX="8" refY="5" markerWidth="5" markerHeight="5" orient="auto"><path d="M0,0L10,5L0,10z" fill="#d9534f" /></marker>
        <marker id="arRs" viewBox="0 0 10 10" refX="9" refY="5" markerWidth="5" markerHeight="5" orient="auto-start-reverse"><path d="M0,1L10,5L0,9z" fill={RED} /></marker>
        <marker id="arG" viewBox="0 0 10 10" refX="6" refY="5" markerWidth="4" markerHeight="4" orient="auto"><path d="M0,0L10,5L0,10z" fill={GREEN} /></marker>
        <marker id="arN" viewBox="0 0 10 10" refX="8" refY="5" markerWidth="5" markerHeight="5" orient="auto"><path d="M0,1L10,5L0,9z" fill="#1b3a66" /></marker>
      </defs>
      <rect x={0} y={0} width={1080} height={688} fill="#d9d9d9" />
      <rect x={0} y={677} width={1080} height={11} fill="#c6c6c6" />
      <rect x={10} y={7} width={528} height={667} fill="#ffffff" />
      <rect x={549} y={0} width={527} height={672} fill="#ffffff" />
      <LeftPage />
      <RightPage />
    </svg>
  );
}
